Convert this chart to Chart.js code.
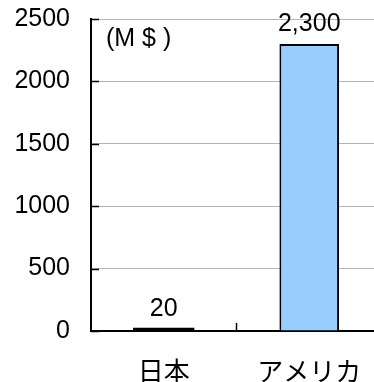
<!DOCTYPE html>
<html>
<head>
<meta charset="utf-8">
<script src="https://cdn.jsdelivr.net/npm/chart.js@4/dist/chart.umd.min.js"></script>
<style>
  html, body { margin: 0; padding: 0; background: #fff; overflow: hidden; }
  #wrap { width: 374px; height: 382px; overflow: hidden; }
</style>
</head>
<body>
<div id="wrap"><canvas id="marketChart" width="390" height="382"></canvas></div>
<script>
// Chart data
const categories = ['日本', 'アメリカ'];
const marketValues = [20, 2300];
const valueLabels = ['20', '2,300'];
const yTicks = [0, 500, 1000, 1500, 2000, 2500];
const unitLabel = '(M $ )';

const numFont = '"Liberation Sans", Arial, sans-serif';

// Draws inward tick marks, value labels and the unit label
const extrasPlugin = {
    id: 'extras',
    afterDatasetsDraw(chart) {
        const ctx = chart.ctx;
        const x = chart.scales.x;
        const y = chart.scales.y;
        const area = chart.chartArea;
        ctx.save();

        // inward ticks on the y axis
        ctx.strokeStyle = '#000';
        ctx.lineWidth = 1.5;
        yTicks.forEach(v => {
            const py = Math.round(y.getPixelForValue(v)) + 0.5;
            ctx.beginPath();
            ctx.moveTo(area.left, py);
            ctx.lineTo(area.left + 8, py);
            ctx.stroke();
        });

        // tick between categories on the x axis
        const mid = Math.round(x.getPixelForValue(0.5)) + 0.5;
        ctx.beginPath();
        ctx.moveTo(mid, area.bottom);
        ctx.lineTo(mid, area.bottom - 8);
        ctx.stroke();

        // value labels
        ctx.fillStyle = '#000';
        ctx.font = '25px ' + numFont;
        ctx.textAlign = 'center';
        ctx.textBaseline = 'alphabetic';
        chart.getDatasetMeta(0).data.forEach((bar, i) => {
            ctx.fillText(valueLabels[i], bar.x, bar.y - 13);
        });

        // unit label
        ctx.textAlign = 'left';
        ctx.font = '25px ' + numFont;
        ctx.fillText(unitLabel, area.left + 15, area.top + 27);
        ctx.restore();
    }
};

const ctx = document.getElementById('marketChart').getContext('2d');
const marketChart = new Chart(ctx, {
    type: 'bar',
    data: {
        labels: categories,
        datasets: [{
            data: marketValues,
            backgroundColor: c => (c.raw < 100 ? '#000' : '#99ccff'),
            borderColor: '#000',
            borderWidth: 2,
            inflateAmount: c => (c.raw < 100 ? 1 : 0),
            barPercentage: 0.41,
            categoryPercentage: 1.0
        }]
    },
    options: {
        responsive: false,
        animation: false,
        layout: { padding: { top: 0, right: 7, bottom: 0, left: 0 } },
        plugins: {
            legend: { display: false },
            tooltip: { enabled: false }
        },
        scales: {
            y: {
                min: 0,
                max: 2500,
                afterBuildTicks: scale => {
                    scale.ticks = yTicks.map(v => ({ value: v }));
                },
                afterFit: scale => { scale.width = 91; },
                ticks: {
                    color: '#000',
                    padding: 0,
                    callback: v => String(v),
                    font: { family: numFont, size: 25, lineHeight: 1 }
                },
                // hidden outer tick length keeps labels away from the axis
                grid: { color: '#b4b4b4', lineWidth: 1, drawTicks: true, tickLength: 21, tickColor: 'rgba(0,0,0,0)' },
                border: { color: '#000', width: 2 }
            },
            x: {
                ticks: {
                    color: '#000',
                    padding: 27,
                    font: { family: '"Noto Sans CJK JP", sans-serif', size: 26, lineHeight: 1 }
                },
                grid: { display: false, drawTicks: false },
                border: { color: '#000', width: 2 }
            }
        }
    },
    plugins: [extrasPlugin]
});

// nudge the plot area to the reference position (top 19, bottom 331)
let padTop = 0, padBottom = 0;
for (let i = 0; i < 3; i++) {
    padTop += 19 - marketChart.chartArea.top;
    padBottom += marketChart.chartArea.bottom - 331;
    marketChart.options.layout.padding = { top: padTop, right: 7, bottom: padBottom, left: 0 };
    marketChart.update();
}
</script>
</body>
</html>
